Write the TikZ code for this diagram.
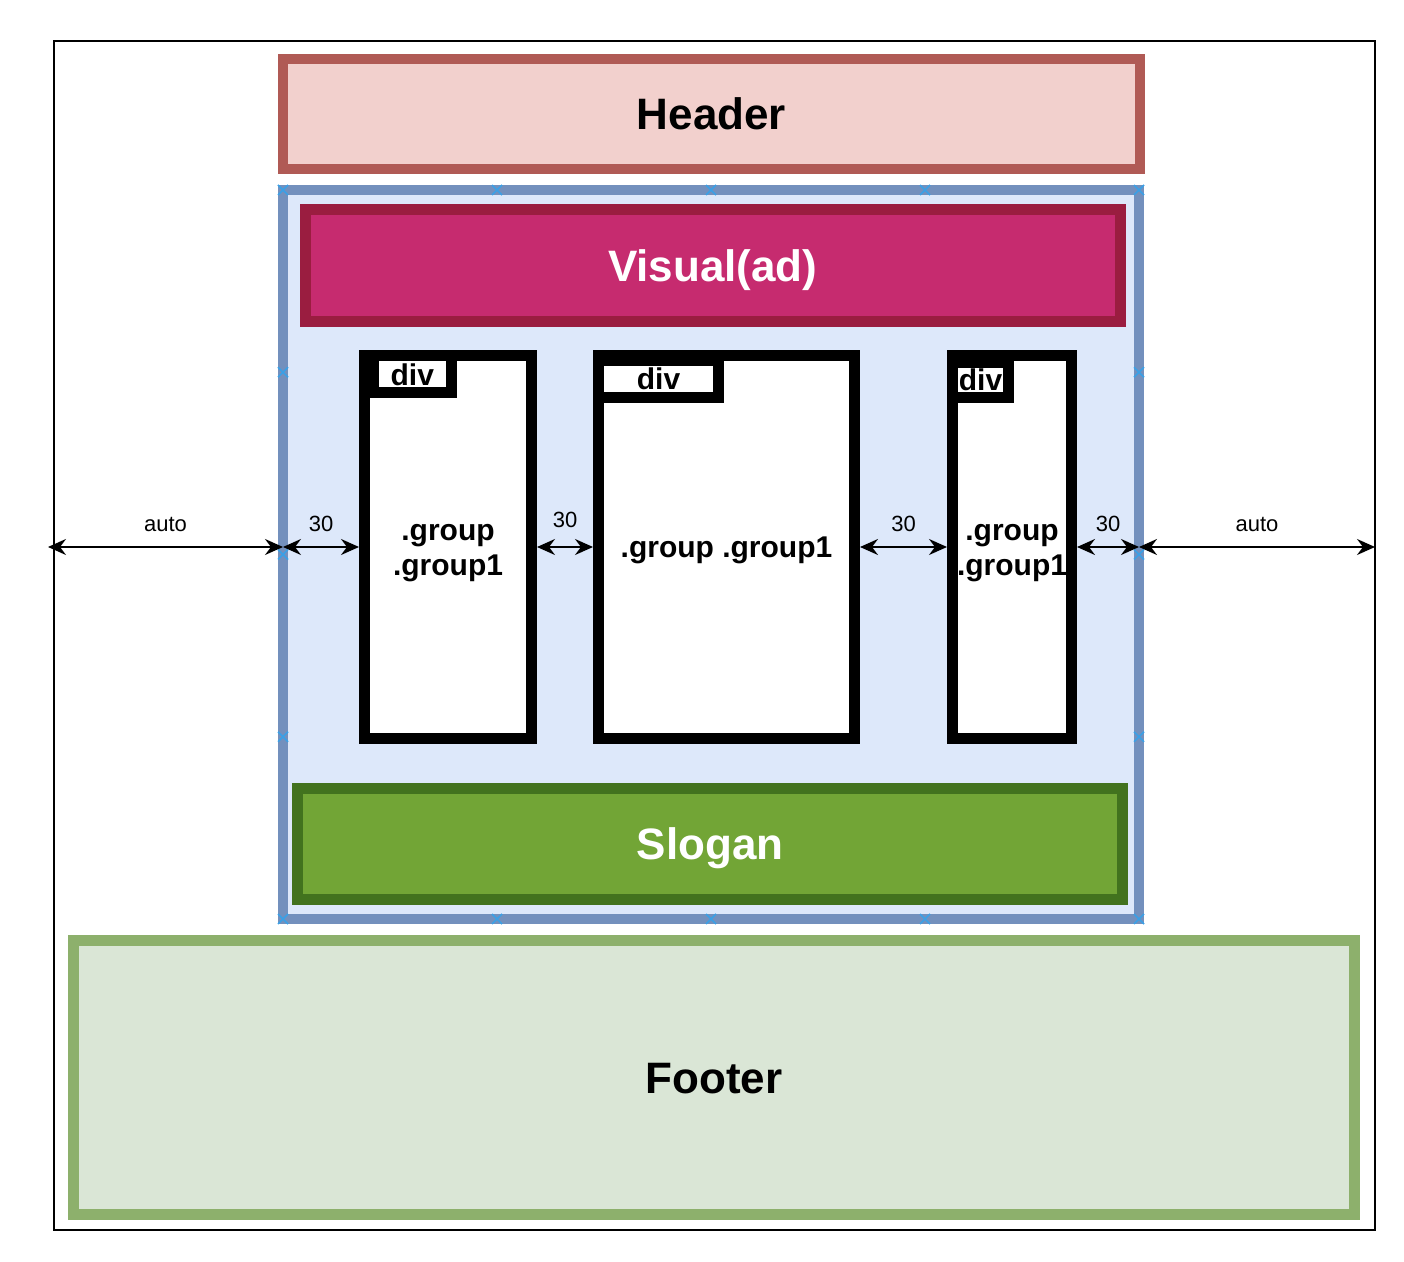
\documentclass[tikz,border=0pt]{standalone}
\usepackage{fontspec}
\setmainfont{Liberation Sans}
\usetikzlibrary{positioning,arrows.meta}

\definecolor{hdrfill}{HTML}{F2D0CD}
\definecolor{hdrdraw}{HTML}{B05A55}
\definecolor{wrapfill}{HTML}{DDE8FA}
\definecolor{wrapdraw}{HTML}{7390BD}
\definecolor{visfill}{HTML}{C62B6F}
\definecolor{visdraw}{HTML}{9A1D40}
\definecolor{slofill}{HTML}{72A536}
\definecolor{slodraw}{HTML}{42721E}
\definecolor{ftrfill}{HTML}{DAE6D6}
\definecolor{ftrdraw}{HTML}{8DB06C}
\definecolor{handleblue}{HTML}{3AA0E6}

\begin{document}
\begin{tikzpicture}[x=0.5pt,y=-0.5pt,
pagenode/.style={rectangle, draw=black, line width=0.75pt, outer sep=0pt},
bigbox/.style={rectangle, line width=5.5pt, text height=15.8pt, text depth=0pt, font=\fontsize{22}{26}\selectfont\bfseries},
rsquarenode/.style={bigbox, draw=hdrdraw, fill=hdrfill, line width=5pt},
bsquarenode/.style={rectangle, draw=wrapdraw, fill=wrapfill, line width=5pt, outer sep=0pt},
vsquarenode/.style={bigbox, draw=visdraw, fill=visfill, text=white},
gsquarenode/.style={bigbox, draw=slodraw, fill=slofill, text=white},
fsquarenode/.style={bigbox, draw=ftrdraw, fill=ftrfill},
divnode/.style={rectangle, draw=black, fill=white, line width=5.5pt, font=\fontsize{15}{17.5}\selectfont\bfseries},
divtext/.style={align=center, font=\fontsize{15}{17.5}\selectfont\bfseries},
tabnode/.style={rectangle, draw=black, fill=white, line width=5.5pt, inner sep=0pt, font=\fontsize{15}{17.5}\selectfont\bfseries},
handle/.style={draw=handleblue, line width=0.75pt},
dim/.style={line width=1pt, >={Stealth[length=9pt,width=8pt,inset=3pt]}, <->},
]
\useasboundingbox (0,0) rectangle (1404,1262);

%Nodes
\node[pagenode, minimum width=660.5pt, minimum height=594.5pt](page) at (714.5,635.5){};

\node[rsquarenode, minimum width=428.5pt, minimum height=55pt](header) at (711.5,114){Header};

\node[fsquarenode, minimum width=640.5pt, minimum height=137pt](footer) at (714,1077.5){Footer};

\node[bsquarenode, minimum width=428pt, minimum height=364.5pt](wrap) at (711,554.5){};

\node[vsquarenode, minimum width=407.75pt, minimum height=55.75pt](visual) at (712.75,265.75){Visual(ad)};

\node[gsquarenode, minimum width=412.5pt, minimum height=55.5pt](slogan) at (710,844){Slogan};

\node[divnode, minimum width=83.5pt, minimum height=191.5pt](div1) at (448,547){};
\node[divtext](div1text) at ([yshift=-3pt]div1.center){.group\\.group1};
\node[tabnode, minimum width=38.75pt, minimum height=18.5pt](tab1) at (412.25,374.5){div};

\node[divnode, minimum width=128pt, minimum height=191.5pt, text height=10.7pt, text depth=0pt](div2) at (726.5,547){.group .group1};
\node[tabnode, minimum width=60pt, minimum height=18.5pt](tab2) at (658.5,379){div};

\node[divnode, minimum width=59.5pt, minimum height=191.5pt](div3) at (1012,547){};
\node[divtext](div3text) at ([yshift=-3pt]div3.center){.group\\.group1};
\node[tabnode, minimum width=28pt, minimum height=17.5pt](tab3) at (980.5,380){div};

% handles on the wrapper
\foreach \x in {283,497,711,925,1139}
  \foreach \y in {190,919}
    \draw[handle] (\x-5,\y-5) -- (\x+5,\y+5) (\x-5,\y+5) -- (\x+5,\y-5);
\foreach \x in {283,1139}
  \foreach \y in {372.25,554.5,736.75}
    \draw[handle] (\x-5,\y-5) -- (\x+5,\y+5) (\x-5,\y+5) -- (\x+5,\y-5);

%Lines
\draw[dim] ([xshift=-3pt]page.west |- div1.center) -- node[midway, above=4pt]{\fontsize{11}{13}\selectfont auto} (wrap.west |- div1.center);
\draw[dim] (wrap.west |- div1.center) -- node[midway, above=4pt]{\fontsize{11}{13}\selectfont 30} (div1.west);
\draw[dim] (div1.east) -- node[midway, above=6pt]{\fontsize{11}{13}\selectfont 30} (div2.west);
\draw[dim] (div2.east) -- node[midway, above=4pt]{\fontsize{11}{13}\selectfont 30} (div3.west);
\draw[dim] (div3.east) -- node[midway, above=4pt]{\fontsize{11}{13}\selectfont 30} (wrap.east |- div3.center);
\draw[dim] (wrap.east |- div3.center) -- node[midway, above=4pt]{\fontsize{11}{13}\selectfont auto} (page.east |- div3.center);

\end{tikzpicture}
\end{document}
